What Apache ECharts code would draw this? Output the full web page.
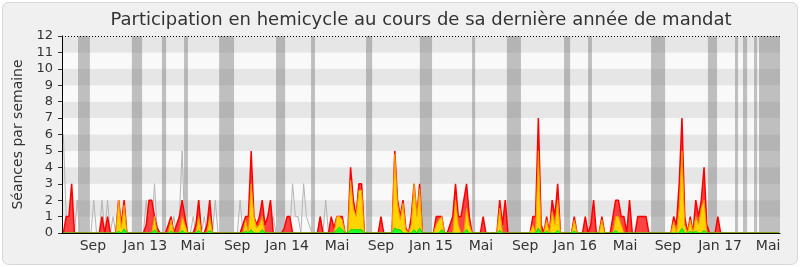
<!DOCTYPE html>
<html><head><meta charset="utf-8">
<script src="https://cdn.jsdelivr.net/npm/echarts@6/dist/echarts.min.js"></script>
<style>html,body{margin:0;padding:0;background:#fff}#c{width:800px;height:267px}</style>
</head><body><div id="c"></div>
<script>
// weekly values, week 0 = mid June 2012
const presence = [
0,1,1,3,0,0,0,0,0,0,
0,0,0,0,1,0,1,0,0,0,
2,0.5,2,0,0,0,0,0,0,0,
0.5,2,2,1,0.3,0,0,0,0.5,1,
0,0.5,1,2,1,0,0,0,0.5,2,
0,0,0.5,2,0,0,0,0,0,0,
0,0,0,0,0,0.5,1,1,5,1,
0.5,1,2,0.5,1,2,0,0,0,0,
0.3,1,1,0,0,0,0,0,0,0,
0,0,0,1,0,0,0,1,0.3,1,
1,1,0,0,4,2,1,3,3,0,
0,0,0,0,0,1,0,0,0,0,
5,2,1,2,0.3,0,1,3,1,3,
0,0,0,0,0,1,1,1,0,0,
0.5,1,3,1,1,2,3,1,0,0,
0,0,1,0,0,0,0,0,2,0.5,
2,0,0,0,0,0,0,0,0,0,
1,1,7,0.5,0,1,0,2,1,3,
0,0,0,0,0,1,0,0,0,1,
0,0.5,2,0,0,1,0,0,0,1,
2,2,1,1,0,2,0,0,1,1,
1,1,0,0,0,0,0,0,0,0,
0,1,0.5,3,7,1,0,1,0,2,
1,2,4,0.5,0,0,0,1,0,0,
0,0,0,0,0,0,0,0,0,0,
0,0,0,0,0,0,0,0,0,0];
const interventions = [
0,0,0,0,0,0,0,0,0,0,
0,0,0,0,0,0,0,0,0,0,
2,0.3,1.7,0,0,0,0,0,0,0,
0,0,0,1,0,0,0,0,0,0.8,
0,0,0,1,0.5,0,0,0,0,1,
0,0,0,1,0,0,0,0,0,0,
0,0,0,0,0,0,0.8,0,3,1,
0.3,0.5,1,0,0,0,0,0,0,0,
0,0,0,0,0,0,0,0,0,0,
0,0,0,0,0,0,0,0,0,1,
1,0.8,0,0,3.2,1.5,1,2.6,2.6,0,
0,0,0,0,0,0,0,0,0,0,
4.8,1.8,0.8,1.8,0.2,0,0.5,3,1,2.7,
0,0,0,0,0,0.5,0.8,1,0,0,
0,0,2,0.5,0,0,1.5,0.5,0,0,
0,0,0,0,0,0,0,0,1.5,0,
0,0,0,0,0,0,0,0,0,0,
0.5,0,5,0,0,0.8,0,1.3,0.5,2,
0,0,0,0,0,0.8,0,0,0,0,
0,0,0,0,0,0.8,0,0,0,0,
1,1,0.5,0,0,0,0,0,0,0,
0,0,0,0,0,0,0,0,0,0,
0,0.7,0,1.5,5,0.5,0,0.8,0,1,
0.5,1.5,2,0,0,0,0,0,0,0,
0,0,0,0,0,0,0,0,0,0,
0,0,0,0,0,0,0,0,0,0];
const questions = [
0,0,0,0,0,0,0,0,0,0,
0,0,0,0,0,0,0,0,0,0,
0.1,0,0.25,0,0,0,0,0,0,0,
0,0,0,0.2,0,0,0,0,0,0.1,
0,0,0,0.15,0,0,0,0,0,0.15,
0,0,0,0.15,0,0,0,0,0,0,
0,0,0,0,0,0,0.1,0,0.2,0,
0,0,0.2,0,0,0,0,0,0,0,
0,0,0,0,0,0,0,0,0,0,
0,0,0,0,0,0,0,0,0,0.2,
0.35,0.2,0,0,0.2,0.2,0.2,0.2,0.2,0,
0,0,0,0,0,0,0,0,0,0,
0.3,0.2,0.2,0,0,0,0,0.2,0,0.3,
0,0,0,0,0,0,0,0.2,0,0,
0,0,0,0,0,0,0.2,0,0,0,
0,0,0,0,0,0,0,0,0.15,0,
0,0,0,0,0,0,0,0,0,0,
0,0,0.3,0,0,0.1,0,0,0,0.15,
0,0,0,0,0,0.1,0,0,0,0,
0,0,0,0,0,0,0,0,0,0,
0.15,0,0,0,0,0,0,0,0,0,
0,0,0,0,0,0,0,0,0,0,
0,0,0,0,0.3,0,0,0.1,0,0.1,
0,0,0.15,0,0,0,0,0,0,0,
0,0,0,0,0,0,0,0,0,0,
0,0,0,0,0,0,0,0,0,0];
const median = [
6,1,0,0,0,2,0,0,0,0,
0,2,0,0,2,0,2,0,1,0,
0,0,0,0,0,0,0,0,0,0,
2,0,0,3,0,0,0,0,0,0,
1,0,1,5,0,0,0,1,0,2,
0,1,0,2,0,2,0,0,0,0,
0,0,0,0,2,0,0,0,0,0,
0,0,0,0,0,0,1,0,0,0,
0,0,0,3,1,1,0,3,1,0.5,
0,0,0,1,0,2,0,0,0,0,
0,0,0,0,0,0,0,0,0,0,
0,0,0,0,0,0,0,0,0,0,
0,0,0,0,0,0,0,0,0,0,
0,0,0,0,0,0,0,0,0,0,
0,0,0,0,0,0,0,0,0,0,
0,0,0,0,0,0,0,0,0,0,
0,0,0,0,0,0,0,0,0,0,
0,0,0,0,0,0,0,0,0,0,
0,0,0,0,0,0,0,0,0,0,
0,0,0,0,0,0,0,0,0,0,
0,0,0,0,0,0,0,0,0,0,
0,0,0,0,0,0,0,0,0,0,
0,0,0,0,0,0,0,0,0,0,
0,0,0,0,0,0,0,0,0,0,
0,0,0,0,0,0,0,0,0,0,
0,0,0,0,0,0,0,0,0,0];
// parliamentary breaks, in weeks
const vacationStart = [5.8,25.3,36.2,44.2,56.9,77.5,90.2,110.1,129.6,148.5,161.1,181.8,190.5,213.3,233.9,243.7,246.6,250.6,252.4];
const vacationEnd   = [10.1,29.0,37.7,45.6,62.3,80.8,91.6,112.3,134.0,149.6,166.2,184.0,191.9,218.4,237.2,244.8,248.1,251.7,260];
// month tick labels
const tickWeeks  = [11.2,30.1,47.4,63.4,81.5,99.6,115.5,133.6,151.7,167.7,185.8,203.9,219.4,238.3,255.7];
const tickLabels = ['Sep','Jan 13','Mai','Sep','Jan 14','Mai','Sep','Jan 15','Mai','Sep','Jan 16','Mai','Sep','Jan 17','Mai'];
const weekCount = 260;
const titleText = 'Participation en hemicycle au cours de sa dernière année de mandat';

const toPts = arr => arr.map((v, i) => [i + 0.5, v]);
const bands = vacationStart.map((s, k) => [{xAxis: s}, {xAxis: vacationEnd[k]}]);
const font = 'DejaVu Sans';

const chart = echarts.init(document.getElementById('c'), null, {renderer: 'canvas'});
chart.setOption({
  backgroundColor: '#ffffff',
  animation: false,
  graphic: [
    {type: 'rect', z: -10, silent: true,
     shape: {x: 2.5, y: 2.5, width: 795, height: 262, r: 6},
     style: {fill: '#f0f0f0', stroke: '#d6d6d6', lineWidth: 1}},
    {type: 'text', z: 10, silent: true, x: 421, y: 20,
     style: {text: titleText, fontFamily: font, fontSize: 18, fill: '#333',
       textAlign: 'center', textVerticalAlign: 'middle'}}
  ],
  grid: {left: 62, right: 20, top: 36, bottom: 34, containLabel: false},
  xAxis: {type: 'value', min: 0, max: weekCount, z: 10,
    axisLine: {show: true, lineStyle: {color: '#000', width: 1}},
    axisTick: {show: false},
    splitLine: {show: false},
    axisLabel: {customValues: tickWeeks, margin: 6,
      fontFamily: font, fontSize: 14, color: '#333',
      formatter: v => { const k = tickWeeks.indexOf(v); return k >= 0 ? tickLabels[k] : ''; }}},
  yAxis: {type: 'value', min: 0, max: 12, interval: 1,
    name: 'Séances par semaine', nameLocation: 'middle', nameRotate: 90, nameGap: 36,
    nameTextStyle: {fontFamily: font, fontSize: 14, color: '#333'},
    axisLine: {show: true, lineStyle: {color: '#000', width: 1}},
    axisTick: {show: true, length: 4, lineStyle: {color: '#333'}},
    axisLabel: {margin: 9, fontFamily: font, fontSize: 13, color: '#333'},
    splitLine: {show: false},
    splitArea: {show: true, areaStyle: {color: ['#f9f9f9', '#e6e6e6']}}},
  series: [
    {type: 'line', data: [], z: 1, silent: true,
     markArea: {silent: true, itemStyle: {color: 'rgba(120,120,120,0.45)'}, data: bands},
     markLine: {silent: true, symbol: ['none', 'none'], label: {show: false},
       lineStyle: {type: [1, 2], color: '#000', width: 1}, data: [{yAxis: 12}]}},
    {type: 'line', data: toPts(median), z: 2, symbol: 'none', silent: true,
     lineStyle: {color: '#b4b4b4', width: 1}},
    {type: 'line', data: toPts(presence), z: 3, symbol: 'none', silent: true,
     lineStyle: {color: '#ff0000', width: 1.5},
     areaStyle: {color: '#ff2a2a', opacity: 0.88}},
    {type: 'line', data: toPts(interventions), z: 4, symbol: 'none', silent: true,
     lineStyle: {color: '#ff9a00', width: 1},
     areaStyle: {color: '#ffd400', opacity: 1}},
    {type: 'line', data: toPts(questions), z: 5, symbol: 'none', silent: true,
     lineStyle: {color: '#00dd00', width: 1},
     areaStyle: {color: '#22ff22', opacity: 1}}
  ]
});
</script></body></html>
